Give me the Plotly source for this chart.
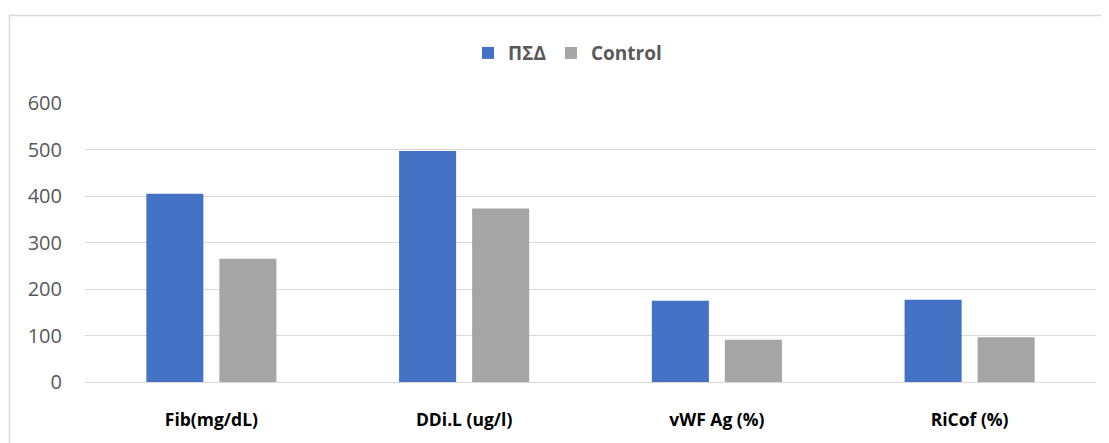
import plotly.graph_objects as go

categories = ["Fib(mg/dL)", "DDi.L (ug/l)", "vWF Ag (%)", "RiCof (%)"]
psd_values = [405, 497, 175, 177]
control_values = [265, 373, 91, 96]
series_names = ["ΠΣΔ", "Control"]
tick_values = [0, 100, 200, 300, 400, 500, 600]

OFF = 8  # page body margin
W, H = 1109 - OFF, 443 - OFF
# plot area in screen pixels: x 85..1096, y 103..388
ml = 85 - OFF
mt = 103 - OFF
mr = W - (1096 - OFF)
mb = H - (388 - OFF)
pw, ph = W - ml - mr, H - mt - mb

def px_x(sx):
    return (sx - OFF - ml) / pw

def px_y(sy):
    return (H - mb - (sy - OFF)) / ph

fig = go.Figure()
fig.add_trace(go.Bar(x=categories, y=psd_values, name=series_names[0],
                     marker=dict(color="#4472C4", line=dict(width=0))))
fig.add_trace(go.Bar(x=categories, y=control_values, name=series_names[1],
                     marker=dict(color="#A5A5A5", line=dict(width=0))))

fig.update_layout(
    width=W, height=H,
    margin=dict(l=ml, r=mr, t=mt, b=mb, pad=0),
    paper_bgcolor="white", plot_bgcolor="white",
    barmode="group", bargap=0.422, bargroupgap=0.219,
    font=dict(family="Open Sans", color="#595959"),
    showlegend=True,
    legend=dict(orientation="h", x=px_x(468), xanchor="left",
                y=px_y(52), yanchor="middle",
                font=dict(size=19, color="#595959", family="Open Sans", weight="bold"),
                bgcolor="rgba(0,0,0,0)", itemwidth=30, traceorder="normal"),
    xaxis=dict(showgrid=False, showline=False, zeroline=False,
               tickfont=dict(size=17.5, color="#000000", family="Open Sans", weight="bold"),
               ticks="", ticklabelstandoff=25, fixedrange=True),
    yaxis=dict(range=[0, 600], tickvals=tick_values, showgrid=True,
               gridcolor="#D9D9D9", gridwidth=1.3, zeroline=True,
               zerolinecolor="#D9D9D9", zerolinewidth=1.3, showline=False,
               tickfont=dict(size=20, color="#595959", family="Open Sans"),
               ticks="", ticklabelstandoff=22),
)

# chart-area border (extends past the visible image on right and bottom)
fig.add_shape(type="rect", xref="paper", yref="paper",
              x0=px_x(9.5), x1=px_x(1109 + 30),
              y0=px_y(443 + 30), y1=px_y(13.5),
              line=dict(color="#D9D9D9", width=1.5), fillcolor="rgba(0,0,0,0)",
              layer="below")

fig.write_html("out.html")
